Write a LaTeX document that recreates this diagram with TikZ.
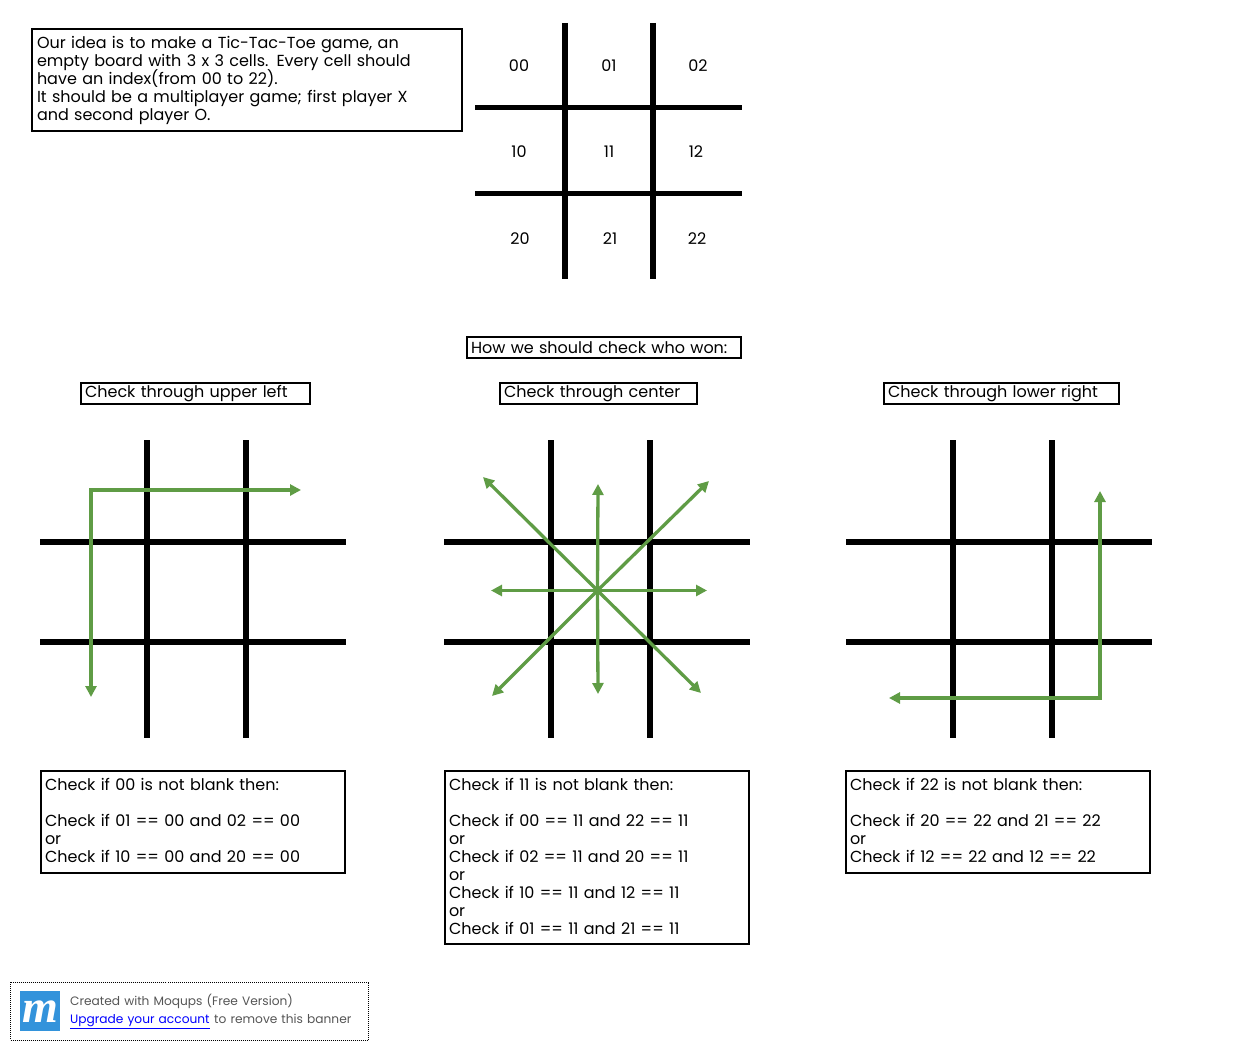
\documentclass[tikz,border=0pt]{standalone}
\usepackage{fontspec}
\setmainfont{Poppins}[WordSpace=1.25]
\newfontfamily\logofont{Liberation Serif}
\usetikzlibrary{arrows.meta}
\definecolor{arrowgreen}{HTML}{5F9C45}
\definecolor{bannergray}{HTML}{555555}
\definecolor{logoblue}{HTML}{3393DB}
\normallineskiplimit=-100pt
\lineskiplimit=-100pt
\tikzset{
  x=1pt,y=-1pt,
  every node/.style={font=\fontsize{16}{18}\selectfont},
  gridline/.style={line width=5.5pt,black},
  note/.style={draw=black,line width=2pt,anchor=north west,inner sep=0pt,align=left,outer sep=0pt},
  cell/.style={inner sep=0pt},
  bannertext/.style={anchor=base west,inner sep=0pt,text=bannergray,font=\fontsize{12.2}{14}\selectfont},
  garrow/.style={draw=arrowgreen,line width=3.3pt,{Triangle[length=11pt,width=11pt]}-{Triangle[length=11pt,width=11pt]},line join=miter},
  oarrow/.style={draw=arrowgreen,line width=3.3pt,-{Triangle[length=11pt,width=11pt]}},
}
\newcommand{\boardgrid}[2]{%
  \coordinate (#1v1t) at (#2+107,440); \coordinate (#1v1b) at (#2+107,738);
  \coordinate (#1v2t) at (#2+206,440); \coordinate (#1v2b) at (#2+206,738);
  \coordinate (#1h1l) at (#2,542); \coordinate (#1h1r) at (#2+306,542);
  \coordinate (#1h2l) at (#2,642); \coordinate (#1h2r) at (#2+306,642);
  \draw[gridline] (#1v1t) -- (#1v1b);
  \draw[gridline] (#1v2t) -- (#1v2b);
  \draw[gridline] (#1h1l) -- (#1h1r);
  \draw[gridline] (#1h2l) -- (#1h2r);
}
\newcommand{\lowered}[1]{\raisebox{-1.2pt}{#1}}
\begin{document}
\begin{tikzpicture}
\useasboundingbox (0,0) rectangle (1237,1051);
% intro
\node[note,minimum width=430pt,minimum height=102pt,text width=420pt] (intro) at (32,29) {Our idea is to make a Tic-Tac-Toe game, an\\empty board with 3 x 3 cells. Every cell should\\have an index(from 00 to 22).\\It should be a multiplayer game; first player X\\and second player O.};
% top board
\coordinate (tv1t) at (565,23); \coordinate (tv1b) at (565,279);
\coordinate (tv2t) at (653,23); \coordinate (tv2b) at (653,279);
\coordinate (th1l) at (475,107.5); \coordinate (th1r) at (742,107.5);
\coordinate (th2l) at (475,193.5); \coordinate (th2r) at (742,193.5);
\draw[gridline] (tv1t) -- (tv1b);
\draw[gridline] (tv2t) -- (tv2b);
\draw[gridline] (th1l) -- (th1r);
\draw[gridline] (th2l) -- (th2r);
\node[cell] (c00) at (519,66) {00};
\node[cell] (c01) at (609,66) {01};
\node[cell] (c02) at (698,66) {02};
\node[cell] (c10) at (519,152) {10};
\node[cell] (c11) at (609,152) {11};
\node[cell] (c12) at (696,152) {12};
\node[cell] (c20) at (520,239) {20};
\node[cell] (c21) at (610,239) {21};
\node[cell] (c22) at (697,239) {22};
% titles
\node[note,minimum width=274pt,minimum height=21pt,text width=266pt] (howtitle) at (467,337) {How we should check who won:};
\node[note,minimum width=229pt,minimum height=21pt,text width=221pt] (lefttitle) at (81,383) {\lowered{Check through upper left}};
\node[note,minimum width=197pt,minimum height=21pt,text width=189pt] (centertitle) at (500,383) {\lowered{Check through center}};
\node[note,minimum width=235pt,minimum height=21pt,text width=227pt] (righttitle) at (884,383) {\lowered{Check through lower right}};
% boards
\boardgrid{l}{40}
\boardgrid{c}{444}
\boardgrid{r}{846}
% left arrows
\coordinate (la) at (301,490); \coordinate (lb) at (91,490); \coordinate (lc) at (91,697);
\draw[garrow] (la) -- (lb) -- (lc);
% center arrows
\coordinate (mid) at (597.5,590.5);
\coordinate (e1) at (483,477); \coordinate (e2) at (598,484); \coordinate (e3) at (709,481);
\coordinate (e4) at (707,590.5); \coordinate (e5) at (491,590.5); \coordinate (e6) at (492,696);
\coordinate (e7) at (598,694); \coordinate (e8) at (701,693);
\foreach \e in {e1,e2,e3,e4,e5,e6,e7,e8} \draw[oarrow] (mid) -- (\e);
% right arrows
\coordinate (ra) at (1100,491); \coordinate (rb) at (1100,698); \coordinate (rc) at (889,698);
\draw[garrow] (ra) -- (rb) -- (rc);
% text boxes
\node[note,minimum width=304pt,minimum height=102pt,text width=296pt] (lefttext) at (41,771) {Check if 00 is not blank then:\\[18pt]Check if 01 == 00 and 02 == 00\\or\\Check if 10 == 00 and 20 == 00\\[-14pt]\mbox{}};
\node[note,minimum width=304pt,minimum height=173pt,text width=296pt] (centertext) at (445,771) {Check if 11 is not blank then:\\[18pt]Check if 00 == 11 and 22 == 11\\or\\Check if 02 == 11 and 20 == 11\\or\\Check if 10 == 11 and 12 == 11\\or\\Check if 01 == 11 and 21 == 11\\[-16pt]\mbox{}};
\node[note,minimum width=304pt,minimum height=102pt,text width=296pt] (righttext) at (846,771) {Check if 22 is not blank then:\\[18pt]Check if 20 == 22 and 21 == 22\\or\\Check if 12 == 22 and 12 == 22\\[-14pt]\mbox{}};
% banner
\node[draw=black,densely dotted,line width=1pt,anchor=north west,minimum width=358pt,minimum height=58pt,inner sep=0pt] (banner) at (10,981.5) {};
\node[fill=logoblue,anchor=north west,minimum width=40pt,minimum height=40pt,inner sep=0pt,text=white,font=\fontsize{46}{46}\logofont\bfseries\itshape] (logo) at (20,991) {m};
\node[bannertext] (credit) at (70,1005.5) {Created with Moqups (Free Version)};
\node[bannertext,text=blue] (upgrade) at (70,1023.5) {\underline{Upgrade your account}};
\node[bannertext] (removeit) at (214,1023.5) {to remove this banner};
\end{tikzpicture}
\end{document}
